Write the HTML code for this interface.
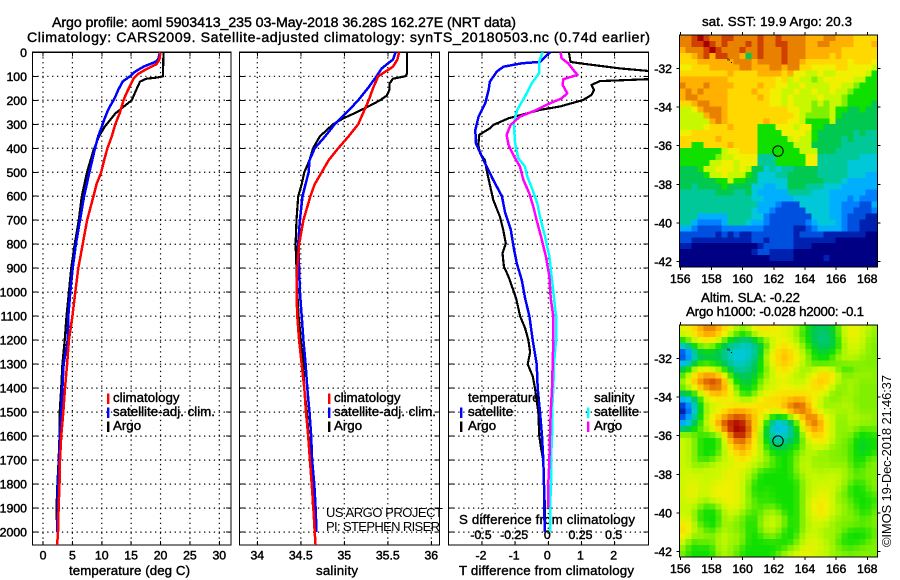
<!DOCTYPE html>
<html>
<head>
<meta charset="utf-8">
<title>Argo profile</title>
<style>
html,body{margin:0;padding:0;background:#fff;width:900px;height:580px;overflow:hidden}
svg{display:block}
text{font-family:"Liberation Sans",sans-serif;fill:#000}
.b{font-size:13.3px;stroke:#000;stroke-width:.4px}
.d{font-size:12.3px;stroke:#000;stroke-width:.45px}
.t{font-size:14.2px;stroke:#000;stroke-width:.4px}
.n{font-size:13px}
</style>
</head>
<body>
<svg id="chart" width="900" height="580" viewBox="0 0 900 580">
  <defs>
    <clipPath id="clip-t"><rect x="32" y="52" width="199.5" height="493"/></clipPath>
    <clipPath id="clip-s"><rect x="239" y="52" width="200.5" height="493"/></clipPath>
    <clipPath id="clip-d"><rect x="448" y="52" width="200.5" height="493"/></clipPath>
  </defs>
  <text class="t" x="52" y="27" textLength="464">Argo profile: aoml 5903413_235 03-May-2018 36.28S 162.27E (NRT data)</text>
  <text class="t" x="27" y="42" textLength="623">Climatology: CARS2009. Satellite-adjusted climatology: synTS_20180503.nc (0.74d earlier)</text>
  <text class="b" x="69" y="575" textLength="121">temperature (deg C)</text>
  <text class="b" x="316" y="575" textLength="42">salinity</text>
  <text class="b" x="459" y="575" textLength="175">T difference from climatology</text>
  <text class="b" x="459" y="524" textLength="176">S difference from climatology</text>
  <text class="n" x="326" y="517" textLength="117">US ARGO PROJECT</text>
  <text class="n" x="326" y="531" textLength="114">PI: STEPHEN RISER</text>
  <text class="b" x="702" y="26" textLength="150">sat. SST: 19.9 Argo: 20.3</text>
  <text class="b" x="701" y="302" textLength="99">Altim. SLA: -0.22</text>
  <text class="b" x="686" y="316" textLength="178">Argo h1000: -0.028 h2000: -0.1</text>
  <text class="n" transform="translate(891,547) rotate(-90)" textLength="172">©IMOS 19-Dec-2018 21:46:37</text>
  <g id="layer"></g>
</svg>
<script>
// Axis ticks
const depthTicks = [0,100,200,300,400,500,600,700,800,900,1000,1100,1200,1300,1400,1500,1600,1700,1800,1900,2000];
const tempTicks = [0,5,10,15,20,25,30];
const salTicks = [34,34.5,35,35.5,36];
const salTickLabels = ['34','34.5','35','35.5','36'];
const tDiffTicks = [-2,-1,0,1,2];
const sDiffTicks = [-0.5,-0.25,0,0.25,0.5];
const sDiffTickLabels = ['-0.5','-0.25','0','0.25','0.5'];
const lonTicks = [156,158,160,162,164,166,168];
const latTicks = [-32,-34,-36,-38,-40,-42];

// Temperature profiles
const argoTempDepth = [0,100,105,110,122,155,200,227,255,310,352,408,498,600,700,800,900,1000,1100,1200,1300,1400,1500,1600,1700,1800,1900,1950];
const argoTemp = [20.5,20.4,19.5,17.6,16.5,15.9,15.1,13.7,12.3,10.5,9.5,8.6,7.5,6.6,6.1,5.4,4.8,4.4,4.0,3.7,3.3,3.1,2.85,2.8,2.65,2.45,2.3,2.3];
const satTempDepth = [0,30,40,60,80,100,122,157,185,200,225,250,275,300,350,400,500,600,700,800,900,1000,1100,1200,1300,1400,1500,1600,1700,1800,1900,2000];
const satTemp = [19.9,19.6,19.1,17.1,15.7,14.8,13.55,12.8,12.3,12.0,11.4,10.9,10.5,10.15,9.4,8.85,7.9,7.0,6.3,5.6,5.05,4.65,4.3,4.2,3.5,3.3,3.1,2.9,2.7,2.55,2.5,2.4];
const climTempDepth = [0,30,50,70,90,110,140,170,200,250,300,350,400,450,500,550,600,700,800,900,1000,1100,1200,1300,1400,1500,1600,1700,1800,1900,2000,2055];
const climTemp = [20,19.8,19.3,17.6,16.2,15.4,14.8,14.2,13.7,13.1,12.3,11.7,10.95,10.4,9.9,9.1,8.6,7.5,6.75,6.0,5.5,5.0,4.4,4.1,3.75,3.45,3.1,2.9,2.8,2.65,2.55,2.4];

// Salinity profiles
const argoSalDepth = [0,90,100,110,130,155,180,200,225,250,275,300,330,350,400,450,500,550,600,700,800,900,1000,1100,1200,1300,1400,1500,1600,1700,1800,1900,1950];
const argoSal = [35.72,35.72,35.70,35.56,35.52,35.52,35.49,35.41,35.28,35.14,34.99,34.87,34.78,34.72,34.64,34.6,34.54,34.51,34.47,34.45,34.44,34.45,34.46,34.475,34.5,34.53,34.54,34.57,34.59,34.62,34.63,34.64,34.66];
const satSalDepth = [0,30,67,100,145,200,250,300,350,400,450,500,600,700,800,900,1000,1100,1200,1300,1400,1500,1600,1700,1800,1900,2000];
const satSal = [35.59,35.56,35.43,35.37,35.28,35.16,35.03,34.89,34.78,34.66,34.6,34.59,34.52,34.49,34.47,34.48,34.49,34.51,34.53,34.555,34.575,34.6,34.62,34.63,34.655,34.67,34.68];
const climSalDepth = [0,30,60,100,150,200,250,300,350,400,450,500,550,600,700,800,900,1000,1100,1200,1300,1400,1500,1600,1700,1800,1900,2000,2055];
const climSal = [35.63,35.61,35.56,35.39,35.33,35.28,35.22,35.16,35.05,34.93,34.82,34.74,34.66,34.61,34.53,34.48,34.46,34.45,34.46,34.48,34.51,34.54,34.56,34.585,34.605,34.625,34.645,34.66,34.67];

// Differences from climatology
const argoTDiffDepth = [0,40,46,67,85,100,112,120,136,157,178,199,226,240,275,303,317,344,386,421,449,490,553,615,685,740,796,838,893,935,1025,1100,1150,1200,1250,1300,1350,1400,1500,1600,1650,1700,1800,1900,2000];
const argoTDiff = [0.62,0.67,0.95,2.16,3.6,3.6,3.0,1.56,1.3,1.38,1.3,1.05,0.35,-0.25,-1.2,-1.66,-1.76,-2.08,-2.11,-2.06,-1.91,-1.86,-1.76,-1.66,-1.46,-1.36,-1.28,-1.38,-1.34,-1.2,-0.97,-0.85,-0.7,-0.6,-0.55,-0.62,-0.47,-0.4,-0.3,-0.27,-0.22,-0.15,-0.13,-0.1,-0.1];
const satTDiffDepth = [0,40,46,60,80,122,157,212,268,324,380,435,476,532,600,670,740,810,880,950,1025,1100,1200,1300,1400,1500,1600,1700,1800,1900,2000];
const satTDiff = [0.05,-0.25,-0.8,-1.35,-1.55,-1.76,-1.8,-1.9,-2.1,-2.2,-2.18,-2.0,-1.86,-1.66,-1.4,-1.3,-1.13,-1.05,-0.95,-0.8,-0.7,-0.57,-0.47,-0.35,-0.32,-0.25,-0.19,-0.15,-0.13,-0.12,-0.11];
const satSDiffDepth = [0,40,88,130,185,240,296,380,442,476,518,574,630,685,768,851,935,1025,1100,1200,1300,1400,1500,1600,1700,1800,1900,2000];
const satSDiff = [-0.043,-0.07,-0.07,-0.126,-0.176,-0.234,-0.26,-0.25,-0.226,-0.176,-0.158,-0.118,-0.083,-0.063,-0.025,0.008,0.025,0.043,0.058,0.058,0.043,0.038,0.028,0.028,0.02,0.02,0.013,0.013];
const argoSDiffDepth = [0,25,46,74,94,112,136,171,192,219,240,268,303,344,386,428,476,532,588,643,699,768,851,935,1025,1100,1200,1300,1400,1500,1600,1700,1800,1900];
const argoSDiff = [0.093,0.1,0.15,0.19,0.22,0.113,0.108,0.143,0.1,-0.013,-0.088,-0.214,-0.284,-0.314,-0.3,-0.264,-0.214,-0.188,-0.143,-0.113,-0.088,-0.055,-0.018,0.008,0.018,0.038,0.038,0.033,0.028,0.018,0.013,0.008,0,0];

// SST map, one character per cell: colour level 0 (coldest) to g (warmest)
const sstRows = [
"eefgfeeffe eeefeefeee edddeedddc ccc",
"eeffgfefee efefeeffee eddeeddddc ccd",
"deeefgfeee feefeeefee eddddddccc ccc",
"ccdefdffee d7efeeefee eddddcdccc ccc",
"cccdddddde eedeeeefee dcccccccbc ccb",
"bbcccddddd eedddeedee ccbbbbccbb bba",
"ccccccccdc cccddddcdb baabaabbbb ba8",
"ddddddddcc ccccccbcab aa9abbbbba a88",
"edddeddddc cccdccbbaa baaaabbaa9 888",
"dededdddcc ccdccbbaab aabaabaa98 888",
"deedddddcc cccdcbbaba aaabaaa988 888",
"ccdeedddcc cccccbbaba aa9a9aa988 887",
"aabdeeedcc ccccccccbb aa999a8877 877",
"aaaadeedcc cccccccccb a9999a8777 777",
"aaaaadedcc ccccdcccbb a8888a7777 777",
"aaaabcccdc ccc888bbba bb88777777 777",
"bbcccccccc ccc8888bbb ba87777776 766",
"ccccccdccc ccc88888ab aa87777676 666",
"cc88ccccdc ccc888888a aa77777666 666",
"8888888abb ccc8888888 aaa7776666 666",
"8888889aab bbb6668888 8bb6666666 555",
"88888aabba bbb6668888 8bb6666655 555",
"7778aabbba ba77565667 7776666655 555",
"77778aabaa a875556677 7776666655 544",
"77777788a8 8775555577 7777666544 444",
"7767777877 7755445577 7666555444 444",
"6666667776 6754444466 6655544444 433",
"6666666666 6655444445 5555544434 333",
"6666666666 6664443222 5555544333 224",
"6666666666 6654432222 2555544332 223",
"6664444466 6655322222 2255544322 211",
"6643333466 6544322222 2345554322 111",
"4432222333 3333222221 1234444322 111",
"2222221212 1122222221 2222111111 100",
"2211111111 1122122221 1111110000 000",
"1100000000 0001222221 1100000000 000",
"0000000000 0012211110 0000000000 000",
"0000000000 0000011110 0000100000 000",
"0000000000 0000000000 0000000000 000"
];

// SLA map, same level coding
const slaRows = [
"bbcdeedcba 9abccbbbaa 9877779abb aa9",
"abcdeedca9 89abbbbaa9 8776779abb aa9",
"89abbba877 66789abbaa 9876678abb a99",
"5789a98766 55678abcba 9877778aaa a99",
"1267777655 5567abcdcb a987788aaa a99",
"1267777655 5567abcdcb a98889aaaa 999",
"4678888765 5678abcdcb a988889999 999",
"78abba8876 66788abcba 9aabba8889 999",
"8acdeeeb87 7778aabbaa 9abcdcb99a 9a9",
"9bdefffe98 7789aabbaa abcdcb99a9 999",
"9acdefedb8 8789aaabba abccba99a9 999",
"777abdddca 889abbccbc cbbba999a9 999",
"4578abbbaa 99abccccdd dcba999a99 999",
"0358aaabbc ccccccbdef fdba9a9aa9 999",
"0257aabcdd dccbbbbdef fdba9aa9a9 999",
"1468abcdef fedca8778a cffdba99aa 9a9",
"3578abefgg geca854578 cdfdba99a9 a99",
"6789abdfgg gfda854467 bcedba99a9 899",
"aa98888aeg gfc9755567 9bdcba9998 888",
"aa98888aee edba866677 9abcba9998 788",
"aa98888abd edba877788 9aaaa99988 788",
"aa98888abc dcba988889 9aa9999998 788",
"aa9888aaab cbaa998889 aa99a99988 899",
"aa99aaaaab baaa998889 aa9a999a98 899",
"aaaaaaabbb aa98888889 aaa9aaa998 999",
"abaaaaaabb aa98888889 9aaaaaaa99 999",
"aabaaabbbb a988888888 9aaaaaa998 899",
"abbaabbbbb a988888888 9aaabaa988 899",
"abbaabbbbb a988988888 9aabba9988 889",
"aab9aabbbb a998888888 9abbba9998 888",
"aaa9889abb a998998888 9abcbaa998 889",
"aa98888aaa 99899a9888 9abcbaa999 889",
"ab98888aa9 9889aaa988 9aabaa9999 899",
"bc99888a99 9889aaa988 9aaaa99999 999",
"cc9a889a99 9889aa9888 9aaa9a9988 889",
"ca9a9a9b9a 9888999888 aaaa9a9888 889",
"a98998aa9a 9888888889 aabaa98888 899",
"a88888aa99 8888888899 abbaaa9989 999",
"9888889a99 8888889aab bbaaa99999 999"
];

// Float position
const floatLon = 162.27;
const floatLat = -36.28;

const palette = [[0,0,132],[0,32,176],[0,80,224],[0,128,255],[0,176,255],[0,200,216],[0,200,152],[0,200,80],[16,224,0],[128,240,0],[200,248,0],[240,240,0],[255,216,0],[255,176,0],[232,128,0],[208,64,0],[168,0,0]];
const levelChars = '0123456789abcdefg';

const NS = 'http://www.w3.org/2000/svg';
const layer = document.getElementById('layer');
function mk(tag, attrs, parent) {
  const el = document.createElementNS(NS, tag);
  for (const k in attrs) el.setAttribute(k, attrs[k]);
  (parent || layer).appendChild(el);
  return el;
}

const TOP = 52.3, BOTTOM = 545;
const depthY = d => TOP + d * 0.2399;
const tempX = t => 43 + 5.877 * t;
const salX = s => 257.3 + 87 * (s - 34);
const tDiffX = v => 548.3 + 33.17 * v;
const sDiffX = v => 548.3 + 132.7 * v;
const lonX = lon => 680.3 + (lon - 156) * 15.58;
const sstLatY = lat => 68.3 + (-lat - 32) * 19.33;
const slaLatY = lat => 358.3 + (-lat - 32) * 19.33;

function dotted(x1, y1, x2, y2, g) {
  const el = mk('line', {x1:x1, y1:y1, x2:x2, y2:y2, stroke:'#000', 'stroke-width':1.2, 'stroke-dasharray':'1.3 3.6', fill:'none'}, g);
  
  
}
function solid(x1, y1, x2, y2, g) {
  const el = mk('line', {x1:x1, y1:y1, x2:x2, y2:y2, stroke:'#000', 'stroke-width':1, 'shape-rendering':'crispEdges'}, g);
  
  
}
function panelFrame(left, right, xTicks, xFn, g) {
  xTicks.forEach(v => {
    dotted(xFn(v), TOP, xFn(v), BOTTOM, g);
    solid(xFn(v), BOTTOM, xFn(v), BOTTOM - 4, g);
    solid(xFn(v), TOP, xFn(v), TOP + 4, g);
  });
  depthTicks.forEach(d => {
    dotted(left, depthY(d), right, depthY(d), g);
    solid(left, depthY(d), left + 5, depthY(d), g);
    solid(right, depthY(d), right - 5, depthY(d), g);
  });
  const fr = mk('rect', {x:left, y:TOP, width:right - left, height:BOTTOM - TOP, fill:'none', stroke:'#000', 'stroke-width':1.2, 'shape-rendering':'crispEdges'}, g);
  
  
}
function tickLabel(str, x, y, anchor) {
  const t = mk('text', {x:x, y:y, 'text-anchor':anchor, class:'d'});
  t.textContent = str;
  
  
  return t;
}
function profile(name, depths, values, xFn, colour, clip, width) {
  const pts = depths.map((d, i) => xFn(values[i]).toFixed(1) + ',' + depthY(d).toFixed(1)).join(' ');
  const el = mk('polyline', {points:pts, fill:'none', stroke:colour, 'stroke-width':width || 2.5, 'clip-path':'url(#' + clip + ')', 'shape-rendering':'crispEdges', 'stroke-linejoin':'round'});
  
  
}
function legendEntry(name, label, barX, textX, y, colour) {
  const r = mk('rect', {x:barX, y:y - 8.5, width:2.4, height:10.5, fill:colour});
  
  
  const t = mk('text', {x:textX, y:y, class:'b'});
  t.textContent = label;
  
  
}

// Panels
const gT = mk('g', {});


panelFrame(32.5, 231, tempTicks, tempX, gT);
const gS = mk('g', {});


panelFrame(239.5, 439.5, salTicks, salX, gS);
const gD = mk('g', {});


panelFrame(448.5, 648.5, tDiffTicks, tDiffX, gD);

depthTicks.forEach(d => tickLabel(String(d), 27, depthY(d) + 4.5, 'end'));
tempTicks.forEach(v => tickLabel(String(v), tempX(v), 559.5, 'middle'));
salTicks.forEach((v, i) => tickLabel(salTickLabels[i], salX(v), 559.5, 'middle'));
tDiffTicks.forEach(v => tickLabel(String(v), tDiffX(v) - 1, 559.5, 'middle'));
sDiffTicks.forEach((v, i) => tickLabel(sDiffTickLabels[i], sDiffX(v) - 1, 539, 'middle'));

// Series
profile('argo-temperature-line', argoTempDepth, argoTemp, tempX, '#000', 'clip-t', 2.2);
profile('satellite-temperature-line', satTempDepth, satTemp, tempX, '#0000ff', 'clip-t');
profile('climatology-temperature-line', climTempDepth, climTemp, tempX, '#ff0000', 'clip-t');
profile('argo-salinity-line', argoSalDepth, argoSal, salX, '#000', 'clip-s', 2.2);
profile('satellite-salinity-line', satSalDepth, satSal, salX, '#0000ff', 'clip-s');
profile('climatology-salinity-line', climSalDepth, climSal, salX, '#ff0000', 'clip-s');
profile('argo-t-difference-line', argoTDiffDepth, argoTDiff, tDiffX, '#000', 'clip-d', 2.2);
profile('satellite-t-difference-line', satTDiffDepth, satTDiff, tDiffX, '#0000ff', 'clip-d');
profile('satellite-s-difference-line', satSDiffDepth, satSDiff, sDiffX, '#00ffff', 'clip-d');
profile('argo-s-difference-line', argoSDiffDepth, argoSDiff, sDiffX, '#ff00ff', 'clip-d');

// Legends
legendEntry('temp-legend-climatology', 'climatology', 107, 113, 402, '#ff0000');
legendEntry('temp-legend-satellite', 'satellite-adj. clim.', 107, 113, 416, '#0000ff');
legendEntry('temp-legend-argo', 'Argo', 107, 113, 430, '#000');
legendEntry('sal-legend-climatology', 'climatology', 328, 334, 402, '#ff0000');
legendEntry('sal-legend-satellite', 'satellite-adj. clim.', 328, 334, 416, '#0000ff');
legendEntry('sal-legend-argo', 'Argo', 328, 334, 430, '#000');
const tHead = tickLabel('temperature', 468, 402, 'start');
tHead.setAttribute('class', 'b');

const sHead = tickLabel('salinity', 594, 402, 'start');
sHead.setAttribute('class', 'b');

legendEntry('diff-legend-t-satellite', 'satellite', 460, 468, 416, '#0000ff');
legendEntry('diff-legend-t-argo', 'Argo', 460, 468, 430, '#000');
legendEntry('diff-legend-s-satellite', 'satellite', 587, 594, 416, '#00ffff');
legendEntry('diff-legend-s-argo', 'Argo', 587, 594, 430, '#ff00ff');

// Colour ramp with continuous level input
function levelColour(v) {
  const lo = Math.max(0, Math.min(palette.length - 1, Math.floor(v)));
  const hi = Math.min(palette.length - 1, lo + 1);
  const f = Math.max(0, Math.min(1, v - lo));
  const c = [0,1,2].map(i => Math.round(palette[lo][i] + (palette[hi][i] - palette[lo][i]) * f));
  return 'rgb(' + c.join(',') + ')';
}
function parseLevels(rows) {
  return rows.map(r => r.replace(/ /g, '').split('').map(ch => levelChars.indexOf(ch)));
}
// Light binomial blur for the altimetry field, which is a smooth product
function blur(grid) {
  const kernel = [1, 2, 1];
  return grid.map((row, r) => row.map((_, c) => {
    let sum = 0, wt = 0;
    for (let dr = -1; dr <= 1; dr++) {
      for (let dc = -1; dc <= 1; dc++) {
        const rr = grid[r + dr];
        if (!rr || rr[c + dc] === undefined) continue;
        const k = kernel[dr + 1] * kernel[dc + 1];
        sum += rr[c + dc] * k;
        wt += k;
      }
    }
    return sum / wt;
  }));
}

// Maps
function drawMap(prefix, grid, top, latY) {
  const left = 679.3, w = 198, h = 232;
  const g = mk('g', {});
  
  
  const cw = w / 33, ch = h / grid.length;
  grid.forEach((row, r) => {
    row.forEach((v, c) => {
      const cell = mk('rect', {x:(left + c * cw).toFixed(2), y:(top + r * ch).toFixed(2), width:(cw + 0.4).toFixed(2), height:(ch + 0.4).toFixed(2), fill:levelColour(v), 'shape-rendering':'crispEdges'}, g);
      
      
    });
  });
  const fr = mk('rect', {x:left, y:top, width:w, height:h, fill:'none', stroke:'#000', 'stroke-width':1, 'shape-rendering':'crispEdges'}, g);
  
  
  lonTicks.forEach(lon => {
    solid(lonX(lon), top, lonX(lon), top - 3, g);
    solid(lonX(lon), top + h, lonX(lon), top + h + 3, g);
    tickLabel(String(lon), lonX(lon), top + h + 16, 'middle');
  });
  latTicks.forEach(lat => {
    solid(left, latY(lat), left - 3, latY(lat), g);
    solid(left + w, latY(lat), left + w + 3, latY(lat), g);
    tickLabel(String(lat), 672, latY(lat) + 4.5, 'end');
  });
  const isle = mk('path', {d:'M728 58.5v2M729 60h1M731 62.5h1', stroke:'#000', 'stroke-width':1, fill:'none', transform:'translate(0,' + (top - 35) + ')', 'shape-rendering':'crispEdges'}, g);
  
  
  const marker = mk('circle', {cx:lonX(floatLon), cy:latY(floatLat), r:5.2, fill:'none', stroke:'#000', 'stroke-width':1}, g);
  
  
}
drawMap('sst', parseLevels(sstRows), 35, sstLatY);
drawMap('sla', blur(parseLevels(slaRows)), 325, slaLatY);
</script>
</body>
</html>
